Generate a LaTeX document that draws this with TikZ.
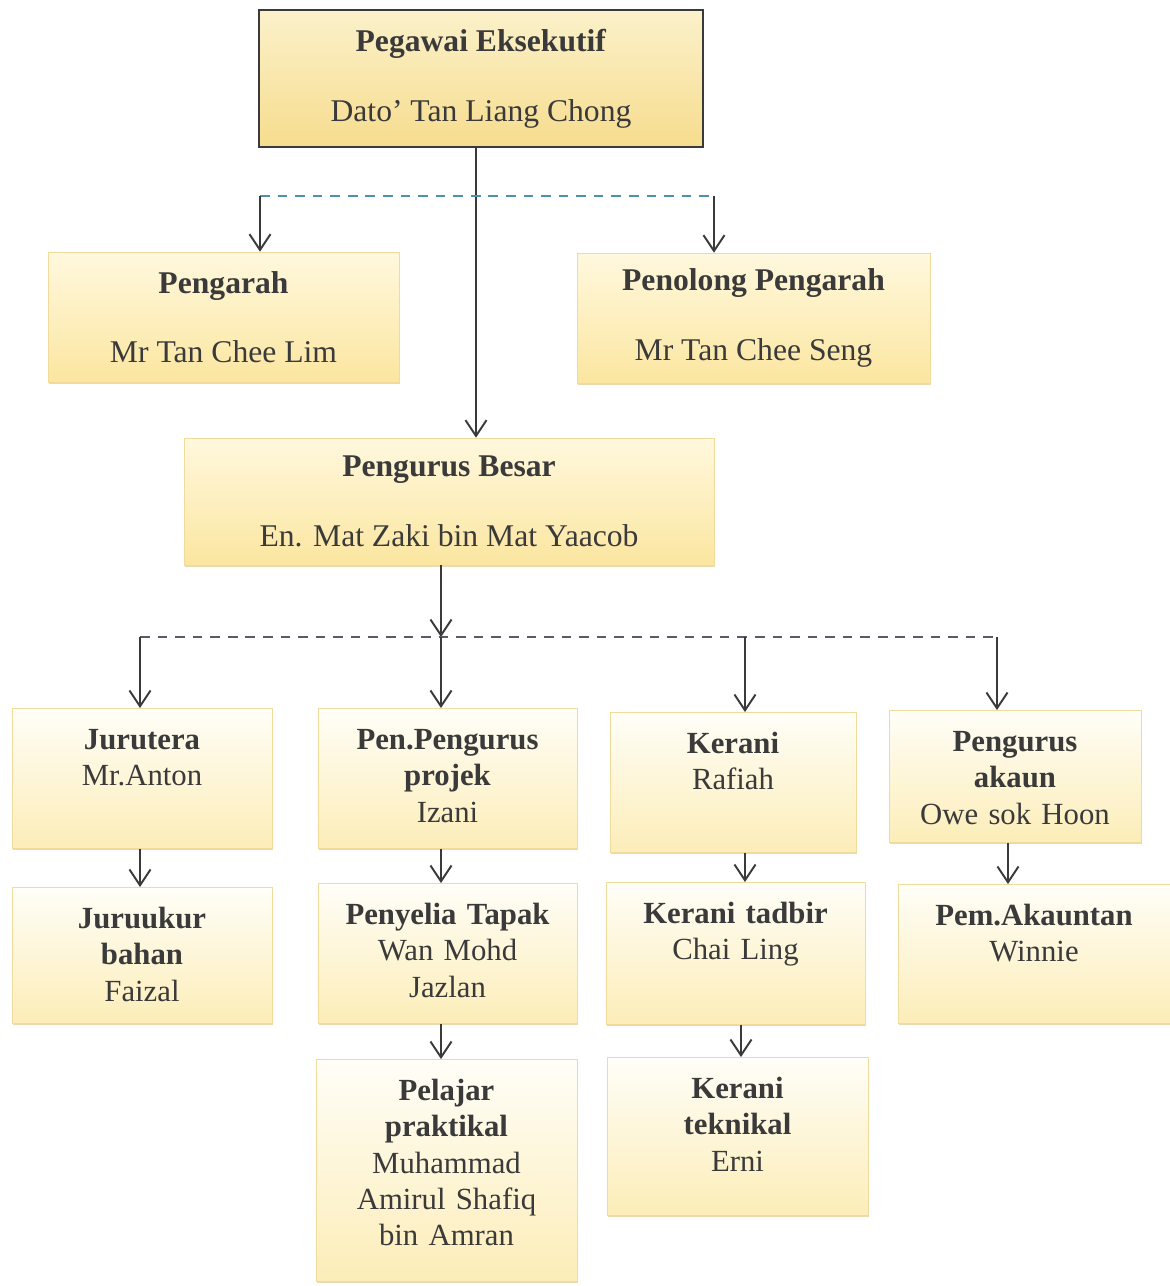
\documentclass[tikz,border=0pt]{standalone}
\usepackage{fontspec}
\setmainfont{Liberation Serif}
\usepackage{xcolor}
\usepackage{tikz}
\usetikzlibrary{arrows.meta, positioning, shadows}
\definecolor{ocInk}{HTML}{3A3A3A}
\definecolor{ocBlue}{HTML}{4F8FB0}
\definecolor{ocGrey}{HTML}{5A5A66}
\definecolor{ocTopA}{HTML}{FBF1CA}
\definecolor{ocTopB}{HTML}{F6DC8E}
\definecolor{ocMidA}{HTML}{FFF8DE}
\definecolor{ocMidB}{HTML}{FBE6A0}
\definecolor{ocLowA}{HTML}{FFFEF8}
\definecolor{ocLowB}{HTML}{FCEDB8}
\definecolor{ocEdge}{HTML}{F0DB9C}
\definecolor{ocShade}{HTML}{DCC27A}

\begin{document}
\begin{tikzpicture}[
  x=0.02cm, y=-0.02cm,
  every node/.style={text=ocInk},
  soft/.style={drop shadow={shadow xshift=0.8pt, shadow yshift=-1pt, fill=ocShade, opacity=0.6}},
  post/.style={align=center, font=\fontsize{18}{21.6}\selectfont, inner sep=0pt},
  chief/.style={post, draw=ocInk, line width=0.9pt, top color=ocTopA, bottom color=ocTopB},
  deputy/.style={post, soft, draw=ocEdge, line width=0.4pt, top color=ocMidA, bottom color=ocMidB},
  unit/.style={post, soft, anchor=north, font=\fontsize{17.5}{20.7}\selectfont,
               inner xsep=0.1cm, inner ysep=0.4cm, text height=0.42cm,
               draw=ocEdge, line width=0.4pt, top color=ocLowA, bottom color=ocLowB},
  arr/.style={-{Straight Barb[length=9pt, width=12pt]}, line width=1.1pt, draw=ocInk},
  bus/.style={line width=0.9pt, dash pattern=on 5.5pt off 4.5pt}
]
  \useasboundingbox (0,0) rectangle (1170,1286);

  \node[chief, minimum width=8.88cm, minimum height=2.74cm] (exec) at (481,78.5)
    {\textbf{Pegawai Eksekutif}\\[18pt]Dato’ Tan Liang Chong};
  \node[deputy, minimum width=7.02cm, minimum height=2.6cm] (pga) at (223.5,317)
    {\textbf{Pengarah}\\[18pt]Mr Tan Chee Lim};
  \node[deputy, minimum width=7.06cm, minimum height=2.6cm] (ppga) at (753.5,318)
    {\textbf{Penolong Pengarah}\\[18pt]Mr Tan Chee Seng};
  \node[deputy, minimum width=10.6cm, minimum height=2.54cm] (gm) at (449,501.5)
    {\textbf{Pengurus Besar}\\[18pt]En. Mat Zaki bin Mat Yaacob};

  \node[unit, text width=5.0cm, text depth=1.58cm] (jur) at (142,708)
    {\textbf{Jurutera}\\Mr.Anton};
  \node[unit, text width=4.98cm, text depth=1.58cm] (ppp) at (447.5,708)
    {\textbf{Pen.Pengurus}\\\textbf{projek}\\Izani};
  \node[unit, text width=4.72cm, text depth=1.58cm] (ker) at (733,712)
    {\textbf{Kerani}\\Rafiah};
  \node[unit, text width=4.84cm, text depth=1.42cm] (pak) at (1015,710)
    {\textbf{Pengurus}\\\textbf{akaun}\\Owe sok Hoon};

  \node[unit, text width=5.0cm, text depth=1.50cm] (juk) at (142,887)
    {\textbf{Juruukur}\\\textbf{bahan}\\Faizal};
  \node[unit, text width=4.98cm, text depth=1.58cm] (pen) at (447.5,883)
    {\textbf{Penyelia Tapak}\\Wan Mohd\\Jazlan};
  \node[unit, text width=4.98cm, text depth=1.62cm] (ktb) at (735.5,882)
    {\textbf{Kerani tadbir}\\Chai Ling};
  \node[unit, text width=5.24cm, text depth=1.56cm] (pem) at (1034,884)
    {\textbf{Pem.Akauntan}\\Winnie};

  \node[unit, text width=5.02cm, text depth=3.22cm] (plj) at (446.5,1059)
    {\textbf{Pelajar}\\\textbf{praktikal}\\Muhammad\\Amirul Shafiq\\bin Amran};
  \node[unit, text width=5.02cm, text depth=1.94cm] (ktk) at (737.5,1057)
    {\textbf{Kerani}\\\textbf{teknikal}\\Erni};

  \coordinate (ta) at (260,196);
  \coordinate (tb) at (714,196);
  \coordinate (b1) at (140,637);
  \coordinate (bm) at (441,637);
  \coordinate (b3) at (745,637);
  \coordinate (b4) at (997,637);

  \draw[arr] ([xshift=-0.1cm]exec.south) -- ([xshift=-0.1cm]exec.south |- gm.north);
  \draw[bus, draw=ocBlue] (ta) -- (tb);
  \draw[arr] (ta) -- (ta |- pga.north);
  \draw[arr] (tb) -- (tb |- ppga.north);

  \draw[arr] (bm |- gm.south) -- (bm);
  \draw[bus, draw=ocGrey] (b1) -- (b4);
  \draw[arr] (b1) -- (b1 |- jur.north);
  \draw[arr] (bm) -- (bm |- ppp.north);
  \draw[arr] (b3) -- (b3 |- ker.north);
  \draw[arr] (b4) -- (b4 |- pak.north);

  \draw[arr] (jur.south -| b1) -- (juk.north -| b1);
  \draw[arr] (ppp.south -| bm) -- (pen.north -| bm);
  \draw[arr] (ker.south -| b3) -- (ktb.north -| b3);
  \draw[arr] ([xshift=-0.14cm]pak.south) -- ([xshift=-0.14cm]pak.south |- pem.north);
  \draw[arr] (pen.south -| bm) -- (plj.north -| bm);
  \draw[arr] ([xshift=0.11cm]ktb.south) -- ([xshift=0.11cm]ktb.south |- ktk.north);
\end{tikzpicture}
\end{document}
